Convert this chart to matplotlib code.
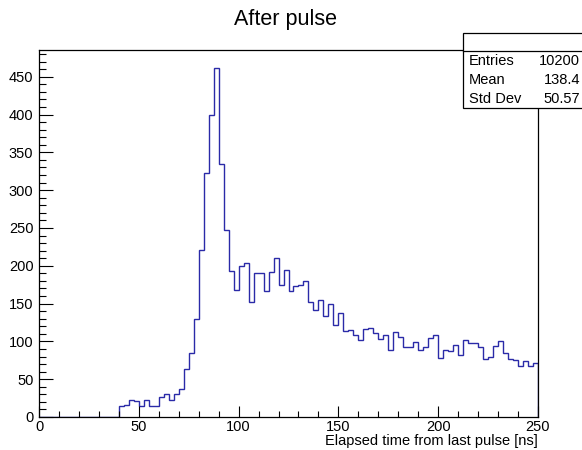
import numpy as np
import matplotlib
matplotlib.use("Agg")
import matplotlib.pyplot as plt
from matplotlib.ticker import MultipleLocator
from matplotlib.patches import Rectangle
from matplotlib.lines import Line2D

plt.rcParams['font.family'] = ['Liberation Sans', 'DejaVu Sans']

# histogram: 100 bins from 0 to 250 ns
bin_edges = np.linspace(0, 250, 101)
counts = [0] * 16 + [
    14, 16, 23, 21, 15, 22, 14, 15, 26, 31,
    23, 30, 37, 63, 85, 129, 221, 323, 400, 462,
    335, 247, 193, 168, 200, 204, 152, 190, 190, 167,
    192, 210, 174, 194, 167, 173, 175, 180, 152, 141,
    155, 133, 149, 122, 137, 114, 115, 109, 102, 117,
    118, 111, 103, 108, 89, 113, 106, 92, 92, 99,
    89, 92, 105, 108, 78, 88, 87, 95, 82, 102,
    98, 98, 92, 77, 79, 94, 100, 84, 77, 76,
    68, 74, 67, 72,
]
stats_names = ["Entries", "Mean", "Std Dev"]
stats_values = ["10200", "138.4", "50.57"]

W, H = 582, 450
fig = plt.figure(figsize=(W / 100, H / 100), dpi=100)

# axes frame in pixel coordinates
left, right, bottom, top = 39, 538, 417, 49.5
ax = fig.add_axes([left / W, 1 - bottom / H, (right - left) / W, (bottom - top) / H])

ax.stairs(counts, bin_edges, color='#2a2aa8', linewidth=1.0, baseline=0)
ax.set_xlim(0, 250)
ax.set_ylim(0, 486)

ax.xaxis.set_major_locator(MultipleLocator(50))
ax.xaxis.set_minor_locator(MultipleLocator(10))
ax.yaxis.set_major_locator(MultipleLocator(50))
ax.yaxis.set_minor_locator(MultipleLocator(10))
ax.tick_params(axis='both', which='both', direction='in', top=False, right=False,
               labelsize=10.5, width=0.8, colors='black')
ax.tick_params(axis='x', which='major', length=8, pad=2.5)
ax.tick_params(axis='x', which='minor', length=4)
ax.tick_params(axis='y', which='major', length=10, pad=4)
ax.tick_params(axis='y', which='minor', length=5)
for sp in ax.spines.values():
    sp.set_linewidth(0.9)

fig.text(285 / W, 1 - 20 / H, "After pulse", ha='center', va='center', fontsize=15.5)
fig.text(right / W, 1 - 441 / H, "Elapsed time from last pulse [ns]",
         ha='right', va='center', fontsize=10.5)

# stats box
bx0, bx1, by0, by1 = 463, 590, 33, 108
fig.patches.append(Rectangle((bx0 / W, 1 - by1 / H), (bx1 - bx0) / W, (by1 - by0) / H,
                             transform=fig.transFigure, facecolor='white',
                             edgecolor='black', linewidth=0.9, zorder=5))
fig.lines.append(Line2D([bx0 / W, 1], [1 - 51 / H, 1 - 51 / H], transform=fig.transFigure,
                        color='black', linewidth=0.9, zorder=6))
for i, (name, val) in enumerate(zip(stats_names, stats_values)):
    y = 1 - (61 + 19 * i) / H
    fig.text(469 / W, y, name, ha='left', va='center', fontsize=10.5, zorder=7)
    fig.text(580 / W, y, val, ha='right', va='center', fontsize=10.5, zorder=7)

fig.savefig("out.png", dpi=100)
